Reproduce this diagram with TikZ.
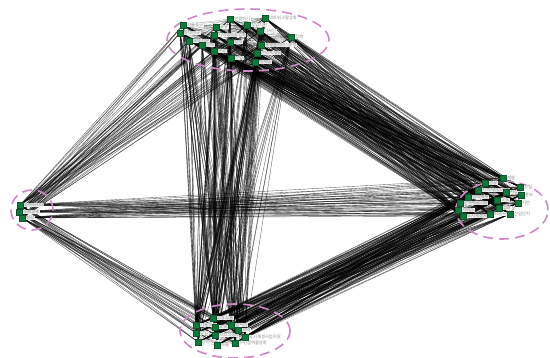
\documentclass[tikz,border=0pt]{standalone}
\usepackage{fontspec}
\newfontfamily\kr{Noto Sans CJK KR}
\definecolor{nodegreen}{HTML}{0E7A3C}
\definecolor{ringpink}{HTML}{CF88C6}
\definecolor{labgray}{HTML}{8A8A8A}
\pgfdeclarelayer{edges}
\pgfdeclarelayer{rings}
\pgfsetlayers{edges,rings,main}
\begin{document}
\begin{tikzpicture}[x=1pt,y=-1pt,
  vtx/.style={rectangle, fill=nodegreen, draw=nodegreen!70!black, line width=0.3pt, minimum size=5.5pt, inner sep=0pt},
  lab/.style={fill=white, fill opacity=0.9, text opacity=1, text=labgray, font=\kr\fontsize{4.3}{4.6}\selectfont, inner sep=0.5pt, anchor=west},
  link/.style={draw=black, line width=0.4pt, opacity=0.6},
  inlink/.style={draw=black, line width=0.3pt, opacity=0.4},
  ring/.style={draw=ringpink, dash pattern=on 10pt off 6pt, line width=1.6pt}]
\useasboundingbox (0,0) rectangle (550,358);

% top cluster
\foreach \n/\x/\y/\t in {t1/183/25/서울중구, t2/180/33/동대문구, t3/189/41/교육지원, t4/202/45/문화,
  t5/214/51/관광, t6/216/27/공유, t7/214/35/지역경제활성화, t8/230/19/연결하기, t9/230/42/협력,
  t10/231/58/산업, t11/247/25/창업지원, t12/260/31/디자인, t13/265/18/네트워크활성화,
  t14/261/45/플랫폼서비스운영, t15/257/53/콘텐츠개발, t16/255/62/마케팅, t17/291/37/정책}
  {\node[vtx] (\n) at (\x,\y) {};
   \node[lab] (\n-lab) at ([xshift=0.6pt]\n.east) {\t};}

% right cluster
\foreach \n/\x/\y/\t in {r1/485/183/관광, r2/503/178/개발, r3/478/190/지역서비스개발, r4/468/197/협력체계,
  r5/460/203/문화예술지원, r6/458/210/서비스, r7/463/216/도시재생사업, r8/490/214/지원사업,
  r9/499/208/정보, r10/497/200/교육, r11/506/192/시장, r12/520/187/창업, r13/521/195/홍보,
  r14/518/203/기반, r15/510/214/산업단지}
  {\node[vtx] (\n) at (\x,\y) {};
   \node[lab] (\n-lab) at ([xshift=0.6pt]\n.east) {\t};}

% left cluster
\foreach \n/\x/\y/\t in {l1/20/205/동북아시대, l2/19/212/경제교류, l3/22/218/협력}
  {\node[vtx] (\n) at (\x,\y) {};
   \node[lab] (\n-lab) at ([xshift=0.6pt]\n.east) {\t};}

% bottom cluster
\foreach \n/\x/\y/\t in {b1/196/325/기술혁신, b2/213/318/고용창출, b3/215/327/교육, b4/231/325/일자리,
  b5/196/333/창업, b6/215/335/사회적경제, b7/238/330/지역, b8/245/337/도시재생사업지원,
  b9/198/342/문화예술, b10/217/345/마을, b11/235/343/주민참여활성화}
  {\node[vtx] (\n) at (\x,\y) {};
   \node[lab] (\n-lab) at ([xshift=0.6pt]\n.east) {\t};}

\begin{pgfonlayer}{edges}
  % between clusters
  \foreach \i in {1,...,17}{
    \foreach \j in {1,...,15}{\draw[link] (t\i) -- (r\j);}
    \foreach \j in {1,...,11}{\draw[link] (t\i) -- (b\j);}
    \foreach \j in {1,...,3}{\draw[link] (t\i) -- (l\j);}
  }
  \foreach \i in {1,...,11}{
    \foreach \j in {1,...,15}{\draw[link] (b\i) -- (r\j);}
    \foreach \j in {1,...,3}{\draw[link] (b\i) -- (l\j);}
  }
  \foreach \i in {1,...,3}{
    \foreach \j in {1,...,15}{\draw[link] (l\i) -- (r\j);}
  }
  % within clusters
  \foreach \i in {1,...,16}{
    \pgfmathtruncatemacro\s{\i+1}
    \foreach \j in {\s,...,17}{\draw[inlink] (t\i) -- (t\j);}
  }
  \foreach \i in {1,...,14}{
    \pgfmathtruncatemacro\s{\i+1}
    \foreach \j in {\s,...,15}{\draw[inlink] (r\i) -- (r\j);}
  }
  \foreach \i in {1,...,10}{
    \pgfmathtruncatemacro\s{\i+1}
    \foreach \j in {\s,...,11}{\draw[inlink] (b\i) -- (b\j);}
  }
\end{pgfonlayer}

\begin{pgfonlayer}{rings}
  \draw[ring] (248,40) ellipse [x radius=81pt, y radius=31pt];
  \draw[ring] (502,210) ellipse [x radius=46pt, y radius=29pt];
  \draw[ring] (32,210) ellipse [x radius=21pt, y radius=20pt];
  \draw[ring] (235,331) ellipse [x radius=55pt, y radius=27pt];
\end{pgfonlayer}
\end{tikzpicture}
\end{document}
